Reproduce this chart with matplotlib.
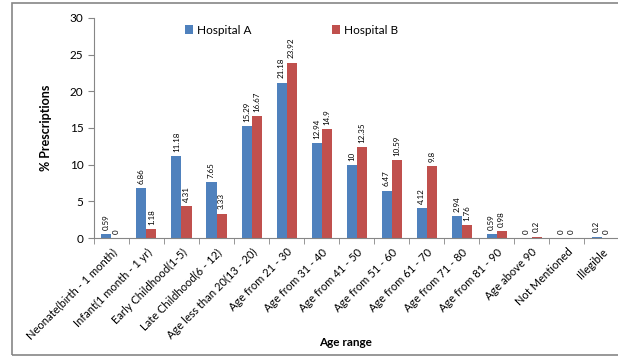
import matplotlib.pyplot as plt
import numpy as np
from matplotlib.patches import Rectangle

plt.rcParams['font.family'] = ['Lato', 'DejaVu Sans']

categories = ['Neonate(birth - 1 month)', 'Infant(1 month - 1 yr)', 'Early Childhood(1-5)',
              'Late Childhood(6 - 12)', 'Age less than 20(13 - 20)', 'Age from 21 - 30',
              'Age from 31 - 40', 'Age from 41 - 50', 'Age from 51 - 60', 'Age from 61 - 70',
              'Age from 71 - 80', 'Age from 81 - 90', 'Age above 90', 'Not Mentioned', 'Illegible']
hospital_a = [0.59, 6.86, 11.18, 7.65, 15.29, 21.18, 12.94, 10, 6.47, 4.12, 2.94, 0.59, 0, 0, 0.2]
hospital_b = [0, 1.18, 4.31, 3.33, 16.67, 23.92, 14.9, 12.35, 10.59, 9.8, 1.76, 0.98, 0.2, 0, 0]

blue = '#4F81BD'
red = '#C0504D'
axis_grey = '#868686'

fig = plt.figure(figsize=(6.18, 3.58), dpi=100)
ax = fig.add_axes([0.152, 0.335, 0.85, 0.615])

x = np.arange(len(categories))
w = 0.286
ax.bar(x - w / 2, hospital_a, w, color=blue, label='Hospital A')
ax.bar(x + w / 2, hospital_b, w, color=red, label='Hospital B')

for xs, vals in ((x - w / 2, hospital_a), (x + w / 2, hospital_b)):
    for xi, v in zip(xs, vals):
        ax.annotate(f'{v:g}', (xi, v), xytext=(0, 3), textcoords='offset points',
                    rotation=90, ha='center', va='bottom', fontsize=5.8)

ax.set_xlim(-0.5, len(categories) - 0.5)
ax.set_ylim(0, 30)
ax.set_yticks(range(0, 31, 5))
ax.set_xticks(x)
ax.set_xticklabels(categories, rotation=45, ha='right', rotation_mode='anchor', fontsize=8)
ax.set_xticks(np.arange(-0.5, len(categories)), minor=True)
ax.tick_params(axis='x', which='major', length=0, pad=6)
ax.tick_params(axis='x', which='minor', length=4, color=axis_grey)
ax.tick_params(axis='y', length=4, color=axis_grey, labelsize=8.5)

for s in ('top', 'right'):
    ax.spines[s].set_visible(False)
for s in ('left', 'bottom'):
    ax.spines[s].set_color(axis_grey)

ax.set_ylabel('% Prescriptions', fontsize=9, fontweight='bold', labelpad=13)
ax.set_xlabel('Age range', fontsize=8.5, fontweight='bold')
ax.xaxis.set_label_coords(0.478, -0.45)

ax.legend(loc='center', bbox_to_anchor=(0.376, 0.945), ncol=2, frameon=False,
          fontsize=8.5, handlelength=0.7, handleheight=0.7, handletextpad=0.3,
          columnspacing=6.8)

# outer chart border
fig.patches.append(Rectangle((12 / 618, 3 / 358), 1.0, 352 / 358, transform=fig.transFigure,
                             fill=False, edgecolor=axis_grey, linewidth=1.2))

fig.savefig('out.png', dpi=100)
